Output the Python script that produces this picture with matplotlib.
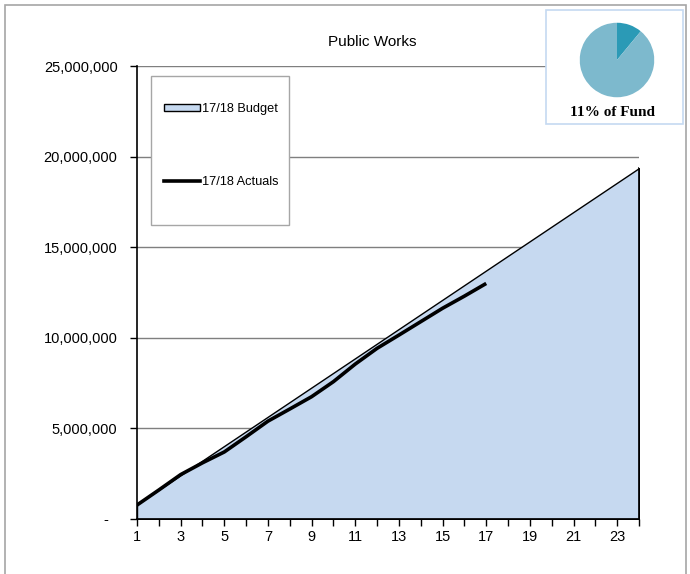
import matplotlib
matplotlib.use("Agg")
import matplotlib.pyplot as plt
from matplotlib.patches import Rectangle, Patch
from matplotlib.lines import Line2D
from matplotlib.ticker import FuncFormatter

plt.rcParams['font.family'] = ['Liberation Sans', 'DejaVu Sans']

months = list(range(1, 25))
budget = [807000, 1614000, 2421000, 3228000, 4035000, 4842000, 5649000, 6456000,
          7263000, 8070000, 8877000, 9684000, 10491000, 11298000, 12105000, 12912000,
          13719000, 14526000, 15333000, 16140000, 16947000, 17754000, 18561000, 19368000]
actual_months = list(range(1, 18))
actuals = [770000, 1600000, 2450000, 3100000, 3700000, 4540000, 5400000, 6070000,
           6750000, 7580000, 8550000, 9420000, 10150000, 10890000, 11630000, 12300000,
           13000000]
yticks = [0, 5000000, 10000000, 15000000, 20000000, 25000000]
xlabels_shown = [1, 3, 5, 7, 9, 11, 13, 15, 17, 19, 21, 23]
pie_values = [11, 89]

W, H = 690, 574
fig = plt.figure(figsize=(6.9, 5.74), dpi=100)

def fx(px):
    return px / W

def fy(py):
    return 1 - py / H

# outer border
fig.patches.append(Rectangle((fx(5), -0.02), fx(681), fy(5) + 0.02, transform=fig.transFigure,
                             fill=False, edgecolor='#a6a6a6', lw=1.2, zorder=0))

ax = fig.add_axes([fx(137), fy(519), fx(639 - 137), (519 - 66) / H])
ax.set_xlim(1, 24)
ax.set_ylim(0, 25000000)
ax.set_yticks(yticks)
ax.yaxis.grid(True, color='#7f7f7f', lw=1.0)
ax.set_axisbelow(True)

ax.fill_between(months, budget, 0, facecolor='#c6d9f0', edgecolor='black', lw=1.0, zorder=2)
ax.plot([24, 24], [0, budget[-1]], color='black', lw=1.2, zorder=3)
ax.plot(actual_months, actuals, color='black', lw=2.6, solid_capstyle='butt', zorder=4)

ax.set_xticks(months)
ax.set_xticklabels([str(m) if m in xlabels_shown else '' for m in months])

def yfmt(v, pos):
    if v == 0:
        return '-  '
    return f'{int(v):,}'

ax.yaxis.set_major_formatter(FuncFormatter(yfmt))
ax.tick_params(axis='both', direction='out', length=5, width=1, colors='black', labelsize=10.5)
ax.tick_params(axis='y', pad=9)
ax.tick_params(axis='x', pad=3)
for s in ['top', 'right']:
    ax.spines[s].set_visible(False)
for s in ['left', 'bottom']:
    ax.spines[s].set_color('black')
    ax.spines[s].set_linewidth(1.2)
    ax.spines[s].set_zorder(5)

fig.text(fx(372), fy(42), 'Public Works', ha='center', va='center', fontsize=11)

# legend box
fig.patches.append(Rectangle((fx(151), fy(225)), fx(289 - 151), (225 - 76) / H, transform=fig.transFigure,
                             facecolor='white', edgecolor='#a6a6a6', lw=1.0, zorder=6))
h1 = Patch(facecolor='#c6d9f0', edgecolor='black', lw=1.0)
h2 = Line2D([0], [0], color='black', lw=2.6)
leg = fig.legend([h1, h2], ['17/18 Budget', '17/18 Actuals'], loc='upper left',
                 bbox_to_anchor=(fx(164), fy(103)), frameon=False, fontsize=9.2,
                 handlelength=2.8, handleheight=0.55, handletextpad=0.15,
                 labelspacing=4.75, borderpad=0, borderaxespad=0)
leg.set_zorder(7)

# pie inset
fig.patches.append(Rectangle((fx(546), fy(124)), fx(683 - 546), (124 - 10) / H, transform=fig.transFigure,
                             facecolor='white', edgecolor='#c5d9f1', lw=1.2, zorder=6))
pax = fig.add_axes([fx(579), fy(98), fx(76), 76 / H], zorder=8)
pax.pie(pie_values, colors=['#2b9ab6', '#7db9cd'], startangle=90, counterclock=False,
        wedgeprops=dict(linewidth=0))
pax.set_xlim(-1.02, 1.02)
pax.set_ylim(-1.02, 1.02)
pax.set_aspect('equal')
fig.text(fx(612), fy(113), '11% of Fund', ha='center', va='center', fontsize=11,
         fontweight='bold', family=['Liberation Serif', 'DejaVu Serif'], zorder=9)

fig.savefig('out.png', dpi=100)
